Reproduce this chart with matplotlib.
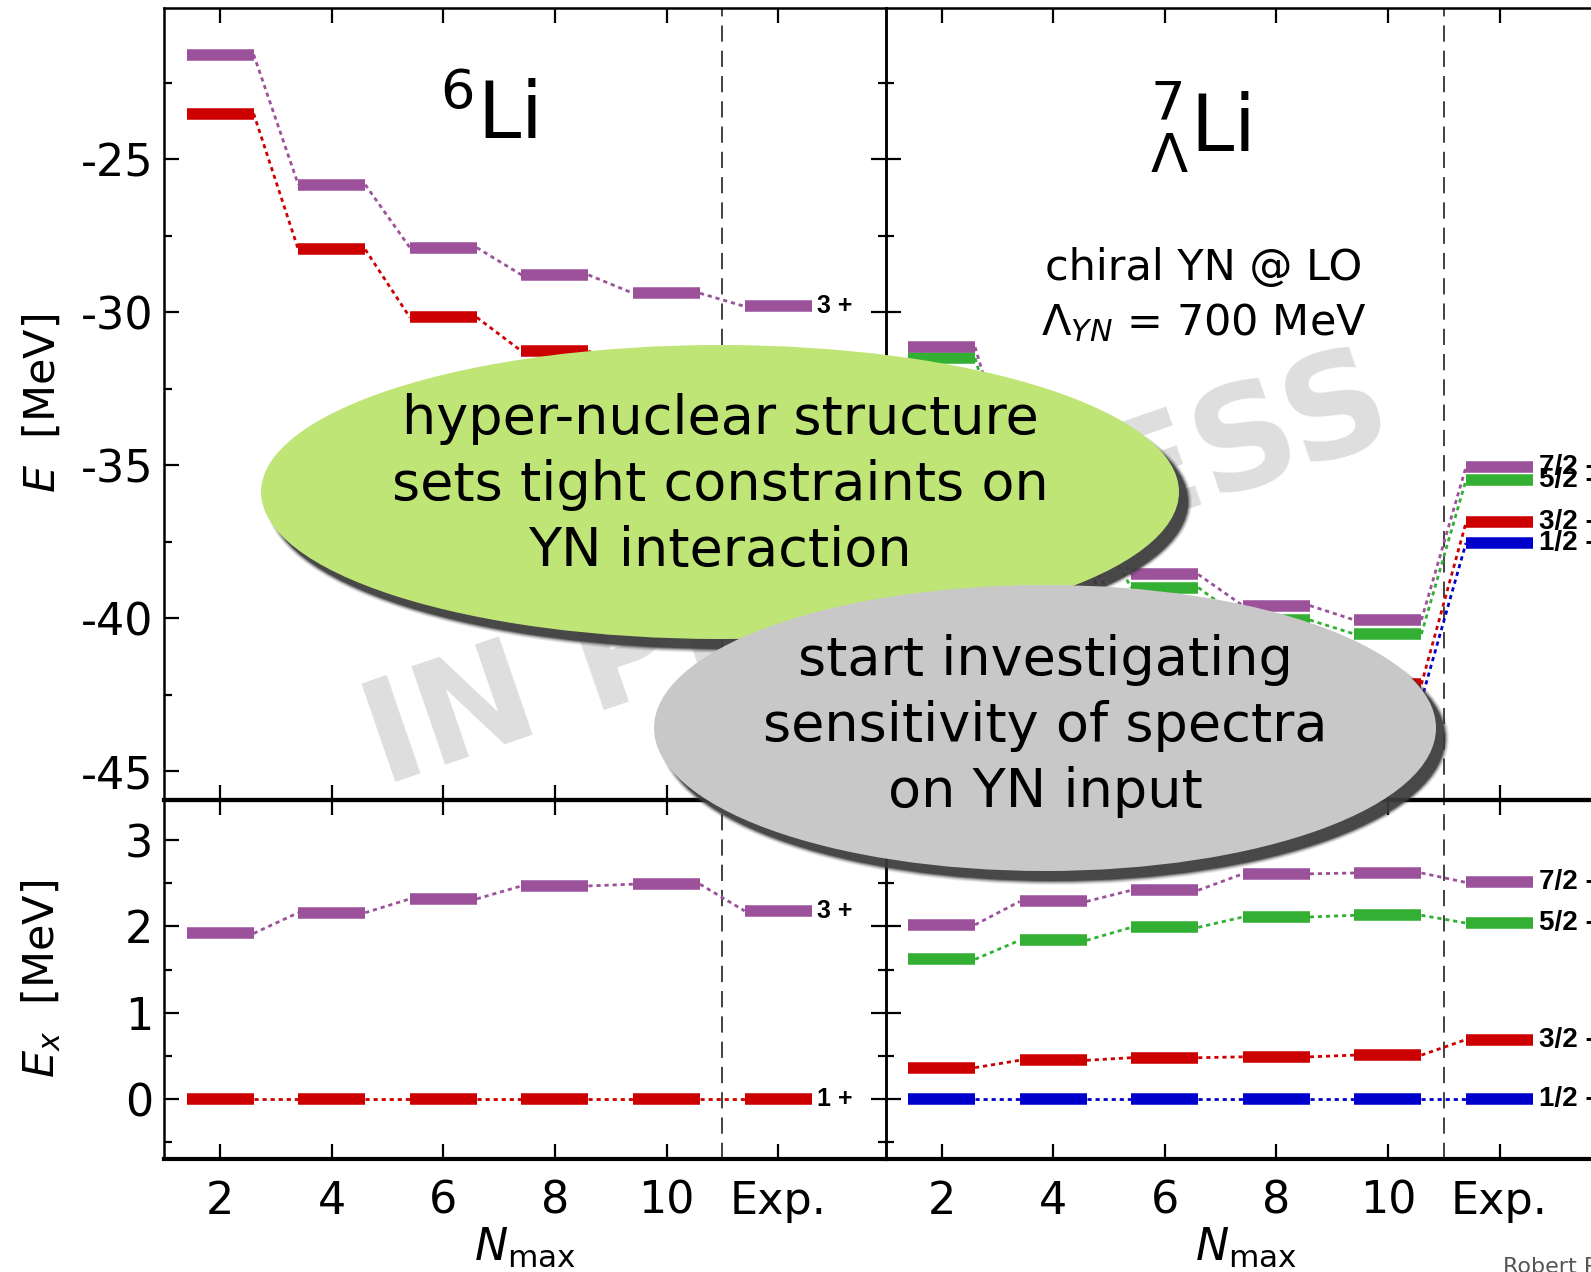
import numpy as np
import matplotlib
matplotlib.use("Agg")
import matplotlib.pyplot as plt
from matplotlib.patches import Ellipse
from matplotlib.ticker import MultipleLocator

# ---- data ----
nmax = [2, 4, 6, 8, 10]
x_exp = 12
xtick_labels = ["2", "4", "6", "8", "10", "Exp."]

# 6Li absolute energies [MeV]
li6_E_1p = [-23.51, -27.95, -30.17, -31.27, -31.88]
li6_E_3p = [-21.58, -25.83, -27.89, -28.78, -29.38]
li6_exp_E = {"1+": -31.99, "3+": -29.81}
# 6Li excitation energies
li6_Ex_1p = [0.0, 0.0, 0.0, 0.0, 0.0]
li6_Ex_3p = [1.92, 2.16, 2.32, 2.47, 2.49]
li6_exp_Ex = {"1+": 0.0, "3+": 2.18}

# 7-Lambda-Li absolute energies
hyp_E_12 = [-33.14, -38.30, -40.99, -42.18, -42.67]
hyp_E_32 = [-32.78, -37.85, -40.51, -41.69, -42.16]
hyp_E_52 = [-31.50, -36.46, -39.00, -40.06, -40.52]
hyp_E_72 = [-31.14, -36.01, -38.57, -39.59, -40.06]
hyp_exp_E = {"1/2-": -37.54, "3/2-": -36.87, "5/2-": -35.48, "7/2-": -35.05}
# 7-Lambda-Li excitation energies
hyp_Ex_12 = [0.0, 0.0, 0.0, 0.0, 0.0]
hyp_Ex_32 = [0.365, 0.45, 0.48, 0.49, 0.51]
hyp_Ex_52 = [1.62, 1.84, 1.99, 2.11, 2.13]
hyp_Ex_72 = [2.02, 2.29, 2.42, 2.61, 2.62]
hyp_exp_Ex = {"1/2-": 0.0, "3/2-": 0.69, "5/2-": 2.04, "7/2-": 2.51}

PURPLE = "#9b529b"
RED = "#cc0000"
GREEN = "#33b033"
BLUE = "#0000cc"

plt.rcParams["font.family"] = "DejaVu Sans"
plt.rcParams["mathtext.fontset"] = "dejavusans"

W, H = 1591, 1272
fig = plt.figure(figsize=(W / 100, H / 100), dpi=100)
fig.patch.set_facecolor("white")

# axes in pixel coords -> figure fractions (right panels run past the edge)
xl0, xm, pw = 164.4, 885.8, 721.4
ytop, ymid, ybot = 8.1, 799.6, 1158.7


def fr(x0, y0, w, h):
    return [x0 / W, 1 - (y0 + h) / H, w / W, h / H]


ax_tl = fig.add_axes(fr(xl0, ytop, pw, ymid - ytop))
ax_tr = fig.add_axes(fr(xm, ytop, pw, ymid - ytop))
ax_bl = fig.add_axes(fr(xl0, ymid, pw, ybot - ymid))
ax_br = fig.add_axes(fr(xm, ymid, pw, ybot - ymid))

HW = 0.6  # half width of a level bar


def levels(ax, vals, exp_val, color, label=None, fs=18):
    xs = list(nmax) + [x_exp]
    ys = list(vals) + [exp_val]
    for i in range(len(xs) - 1):
        ax.plot([xs[i] + HW, xs[i + 1] - HW], [ys[i], ys[i + 1]], ls=(0, (1.5, 1.4)),
                lw=2.0, color=color, zorder=3)
    ax.hlines(ys, [x - HW for x in xs], [x + HW for x in xs], color=color, lw=8.3, zorder=4)
    if label:
        ax.text(x_exp + HW + 0.1, exp_val, label, fontsize=fs, fontweight="bold",
                family="Liberation Sans", va="center", ha="left", zorder=5,
                clip_on=False)


levels(ax_tl, li6_E_1p, li6_exp_E["1+"], RED, "1 +")
levels(ax_tl, li6_E_3p, li6_exp_E["3+"], PURPLE, "3 +")
levels(ax_bl, li6_Ex_1p, li6_exp_Ex["1+"], RED, "1 +")
levels(ax_bl, li6_Ex_3p, li6_exp_Ex["3+"], PURPLE, "3 +")

levels(ax_tr, hyp_E_12, hyp_exp_E["1/2-"], BLUE, "1/2 -", 20)
levels(ax_tr, hyp_E_32, hyp_exp_E["3/2-"], RED, "3/2 -", 20)
levels(ax_tr, hyp_E_52, hyp_exp_E["5/2-"], GREEN, "5/2 -", 20)
levels(ax_tr, hyp_E_72, hyp_exp_E["7/2-"], PURPLE, "7/2 -", 20)
levels(ax_br, hyp_Ex_12, hyp_exp_Ex["1/2-"], BLUE, "1/2 -", 20)
levels(ax_br, hyp_Ex_32, hyp_exp_Ex["3/2-"], RED, "3/2 -", 20)
levels(ax_br, hyp_Ex_52, hyp_exp_Ex["5/2-"], GREEN, "5/2 -", 20)
levels(ax_br, hyp_Ex_72, hyp_exp_Ex["7/2-"], PURPLE, "7/2 -", 20)

for ax in (ax_tl, ax_tr, ax_bl, ax_br):
    ax.set_facecolor("none")
    ax.set_xlim(1, 13.93)
    ax.set_xticks(list(nmax) + [x_exp])
    ax.axvline(11, color="#333333", lw=1.3, ls=(0, (9, 5)), zorder=2)
    ax.tick_params(which="both", direction="in", top=True, right=True,
                   labelsize=32, width=1.6)
    ax.tick_params(which="major", length=11)
    ax.tick_params(which="minor", length=6)
    ax.tick_params(axis="x", pad=15)
    ax.tick_params(axis="y", pad=8)
    for sp in ax.spines.values():
        sp.set_linewidth(1.8)

for ax in (ax_tl, ax_tr):
    ax.set_ylim(-45.93, -20.06)
    ax.yaxis.set_major_locator(MultipleLocator(5))
    ax.yaxis.set_minor_locator(MultipleLocator(2.5))
    ax.tick_params(axis="x", labelbottom=False)
    ax.spines["bottom"].set_linewidth(3)
for ax in (ax_bl, ax_br):
    ax.set_ylim(-0.69, 3.47)
    ax.yaxis.set_major_locator(MultipleLocator(1))
    ax.yaxis.set_minor_locator(MultipleLocator(0.5))
    ax.set_xticklabels(xtick_labels)
    ax.set_xlabel(r"$N_{\mathrm{max}}$", fontsize=32, labelpad=2)
    ax.spines["top"].set_linewidth(3)
    ax.spines["bottom"].set_linewidth(3)
for ax in (ax_tr, ax_br):
    ax.tick_params(axis="y", labelleft=False)

ax_tl.set_yticks([-25, -30, -35, -40, -45])
ax_tl.set_yticklabels(["-25", "-30", "-35", "-40", "-45"])
ax_bl.set_yticks([0, 1, 2, 3])
ax_tl.set_ylabel(r"$E$  [MeV]", fontsize=31)
ax_bl.set_ylabel(r"$E_x$  [MeV]", fontsize=31)
ax_tl.yaxis.set_label_coords(-0.14, 0.5)
ax_bl.yaxis.set_label_coords(-0.14, 0.5)

# nucleus titles
ax_tl.text(0.449, 0.862, r"$^{6}\mathrm{Li}$", transform=ax_tl.transAxes, fontsize=56,
           ha="center", va="center")
ax_tr.text(0.435, 0.85, r"${}^{7}_{\Lambda}\mathrm{Li}$", transform=ax_tr.transAxes,
           fontsize=56, ha="center", va="center")
ax_tr.text(0.441, 0.672, "chiral YN @ LO", transform=ax_tr.transAxes, fontsize=31,
           ha="center", va="center")
ax_tr.text(0.441, 0.602, r"$\Lambda_{YN}$ = 700 MeV", transform=ax_tr.transAxes,
           fontsize=31, ha="center", va="center")

# watermark behind the data
fig.text(878 / W, 1 - 574 / H, "IN PROGRESS", fontsize=102, fontweight="bold",
         color="#dedede", rotation=19, ha="center", va="center", zorder=-5)


def bubble(cx, cy, w, h, color, text, ty):
    # soft drop shadow
    for k, a in enumerate([0.10, 0.15, 0.25, 0.45, 0.8]):
        grow = (4 - k) * 2.0
        sh = Ellipse(((cx + 9) / W, 1 - (cy + 10) / H), (w + grow) / W, (h + grow) / H,
                     transform=fig.transFigure, facecolor="#3c3c3c", edgecolor="none",
                     alpha=a, zorder=10)
        fig.add_artist(sh)
    e = Ellipse((cx / W, 1 - cy / H), w / W, h / H, transform=fig.transFigure,
                facecolor=color, edgecolor="none", zorder=11)
    fig.add_artist(e)
    fig.text(cx / W, 1 - ty / H, text, fontsize=39, ha="center", va="center",
             linespacing=1.33, zorder=12)


bubble(720, 492, 918, 294, "#c0e577",
       "hyper-nuclear structure\nsets tight constraints on\nYN interaction", 485)
bubble(1045, 728, 782, 286, "#c8c8c8",
       "start investigating\nsensitivity of spectra\non YN input", 726)

fig.text(1503 / W, 1 - 1257 / H, "Robert Roth - TU Darmstadt", fontsize=16,
         color="#555555", ha="left", va="top")

fig.savefig("out.png", dpi=100)
